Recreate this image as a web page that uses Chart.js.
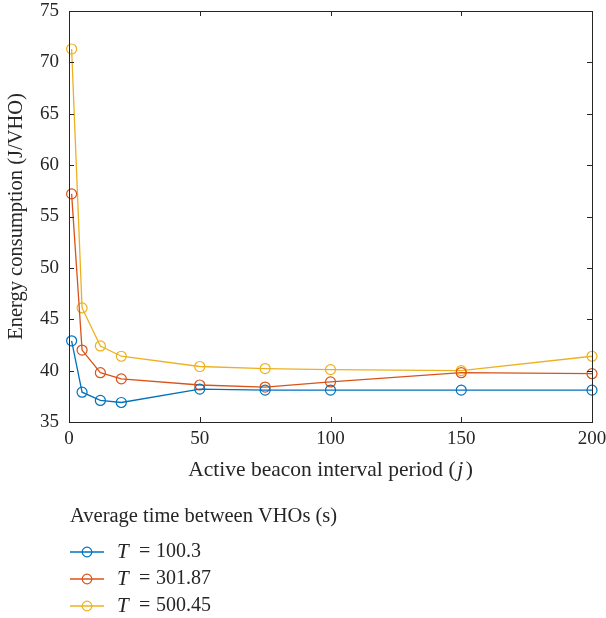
<!DOCTYPE html>
<html>
<head>
<meta charset="utf-8">
<script src="https://cdn.jsdelivr.net/npm/chart.js@4.4.1/dist/chart.umd.min.js"></script>
<style>
  html, body { margin: 0; padding: 0; background: #ffffff; }
  #wrap { position: relative; width: 606px; height: 618px; }
</style>
</head>
<body>
<div id="wrap"><canvas id="c" width="606" height="618"></canvas></div>
<script>
// ---- data ----
const beaconPeriods = [1, 5, 12, 20, 50, 75, 100, 150, 200];
const energyT100 = [42.9, 37.9, 37.1, 36.9, 38.2, 38.1, 38.1, 38.1, 38.1];
const energyT301 = [57.2, 42.0, 39.8, 39.2, 38.6, 38.4, 38.9, 39.8, 39.7];
const energyT500 = [71.3, 46.1, 42.4, 41.4, 40.4, 40.2, 40.1, 40.0, 41.4];
const seriesLabels = ["100.3", "301.87", "500.45"];
const xTicks = [0, 50, 100, 150, 200];
const yTicks = [35, 40, 45, 50, 55, 60, 65, 70, 75];

const colors = ["#0072BD", "#D95319", "#EDB120"];
const FONT = "'Liberation Serif', 'Times New Roman', serif";
const AXIS = "#262626";
const TEXT = "#262626";

function toPoints(ys) { return beaconPeriods.map((x, i) => ({ x: x, y: ys[i] })); }
const allSeries = [energyT100, energyT301, energyT500];

const datasets = allSeries.map((ys, i) => ({
  label: "T = " + seriesLabels[i],
  data: toPoints(ys),
  borderColor: colors[i],
  backgroundColor: "rgba(0,0,0,0)",
  borderWidth: 1.3,
  pointRadius: 5,
  pointBorderWidth: 1.2,
  pointBackgroundColor: "rgba(0,0,0,0)",
  pointBorderColor: colors[i],
  tension: 0,
  clip: false
}));

const decor = {
  id: "decor",
  afterDatasetsDraw(chart) {
    const ctx = chart.ctx;
    const a = chart.chartArea;
    const xs = chart.scales.x, ys = chart.scales.y;
    ctx.save();
    ctx.strokeStyle = AXIS;
    ctx.lineWidth = 1;
    ctx.strokeRect(Math.round(a.left) + 0.5, Math.round(a.top) + 0.5,
                   Math.round(a.right - a.left), Math.round(a.bottom - a.top));
    const TL = 5;
    xTicks.forEach(v => {
      const px = Math.round(xs.getPixelForValue(v)) + 0.5;
      ctx.beginPath();
      ctx.moveTo(px, a.bottom); ctx.lineTo(px, a.bottom - TL);
      ctx.moveTo(px, a.top); ctx.lineTo(px, a.top + TL);
      ctx.stroke();
    });
    yTicks.forEach(v => {
      const py = Math.round(ys.getPixelForValue(v)) + 0.5;
      ctx.beginPath();
      ctx.moveTo(a.left, py); ctx.lineTo(a.left + TL, py);
      ctx.moveTo(a.right, py); ctx.lineTo(a.right - TL, py);
      ctx.stroke();
    });
    ctx.restore();
  },
  afterDraw(chart) {
    const ctx = chart.ctx;
    const a = chart.chartArea;
    ctx.save();
    ctx.fillStyle = TEXT;
    ctx.textBaseline = "middle";
    const fs = 21.5;
    const p1 = "Active beacon interval period (";
    const p2 = "j";
    const p3 = ")";
    ctx.font = fs + "px " + FONT;
    const w1 = ctx.measureText(p1).width;
    const w3 = ctx.measureText(p3).width;
    ctx.font = "italic " + fs + "px " + FONT;
    const w2 = ctx.measureText(p2).width + 4;
    const total = w1 + w2 + w3;
    let x0 = (a.left + a.right) / 2 - total / 2;
    const ty = 470;
    ctx.textAlign = "left";
    ctx.font = fs + "px " + FONT;
    ctx.fillText(p1, x0, ty);
    ctx.font = "italic " + fs + "px " + FONT;
    ctx.fillText(p2, x0 + w1 + 1.5, ty);
    ctx.font = fs + "px " + FONT;
    ctx.fillText(p3, x0 + w1 + w2, ty);
    // y axis title
    ctx.save();
    ctx.translate(17, (a.top + a.bottom) / 2);
    ctx.rotate(-Math.PI / 2);
    ctx.textAlign = "center";
    ctx.font = "20.5px " + FONT;
    ctx.fillText("Energy consumption (J/VHO)", 0, 0);
    ctx.restore();
    // legend
    ctx.textAlign = "left";
    ctx.font = "20.5px " + FONT;
    ctx.fillText("Average time between VHOs (s)", 70, 517);
    const rows = [552, 579, 606];
    chart.data.datasets.forEach((ds, i) => {
      const y = rows[i];
      ctx.strokeStyle = ds.borderColor;
      ctx.lineWidth = 1.5;
      ctx.beginPath();
      ctx.moveTo(70, y); ctx.lineTo(104, y);
      ctx.stroke();
      ctx.beginPath();
      ctx.arc(87, y, 4.8, 0, Math.PI * 2);
      ctx.lineWidth = 1.2;
      ctx.stroke();
      ctx.fillStyle = TEXT;
      ctx.font = "italic 21px " + FONT;
      ctx.fillText("T", 117, y);
      ctx.font = "20px " + FONT;
      ctx.fillText("=", 139, y);
      ctx.fillText(seriesLabels[i], 156, y);
    });
    ctx.restore();
  }
};

new Chart(document.getElementById("c"), {
  type: "line",
  data: { datasets: datasets },
  options: {
    responsive: false,
    animation: false,
    events: [],
    layout: { padding: { left: 0, top: 11, right: 14, bottom: 0 } },
    plugins: { legend: { display: false }, tooltip: { enabled: false }, title: { display: false } },
    scales: {
      x: {
        type: "linear",
        min: 0, max: 200,
        afterBuildTicks: s => { s.ticks = xTicks.map(v => ({ value: v })); },
        afterFit: s => { s.height = 196; s.paddingLeft = 0; s.paddingRight = 0; },
        grid: { display: false, drawTicks: false },
        border: { display: false },
        ticks: { color: TEXT, font: { family: FONT, size: 19 }, padding: 6, maxRotation: 0 }
      },
      y: {
        type: "linear",
        min: 35, max: 75,
        afterBuildTicks: s => { s.ticks = yTicks.map(v => ({ value: v })); },
        afterFit: s => { s.width = 69; s.paddingTop = 0; s.paddingBottom = 0; },
        grid: { display: false, drawTicks: false },
        border: { display: false },
        ticks: { color: TEXT, font: { family: FONT, size: 19 }, padding: 10 }
      }
    }
  },
  plugins: [decor]
});
</script>
</body>
</html>
